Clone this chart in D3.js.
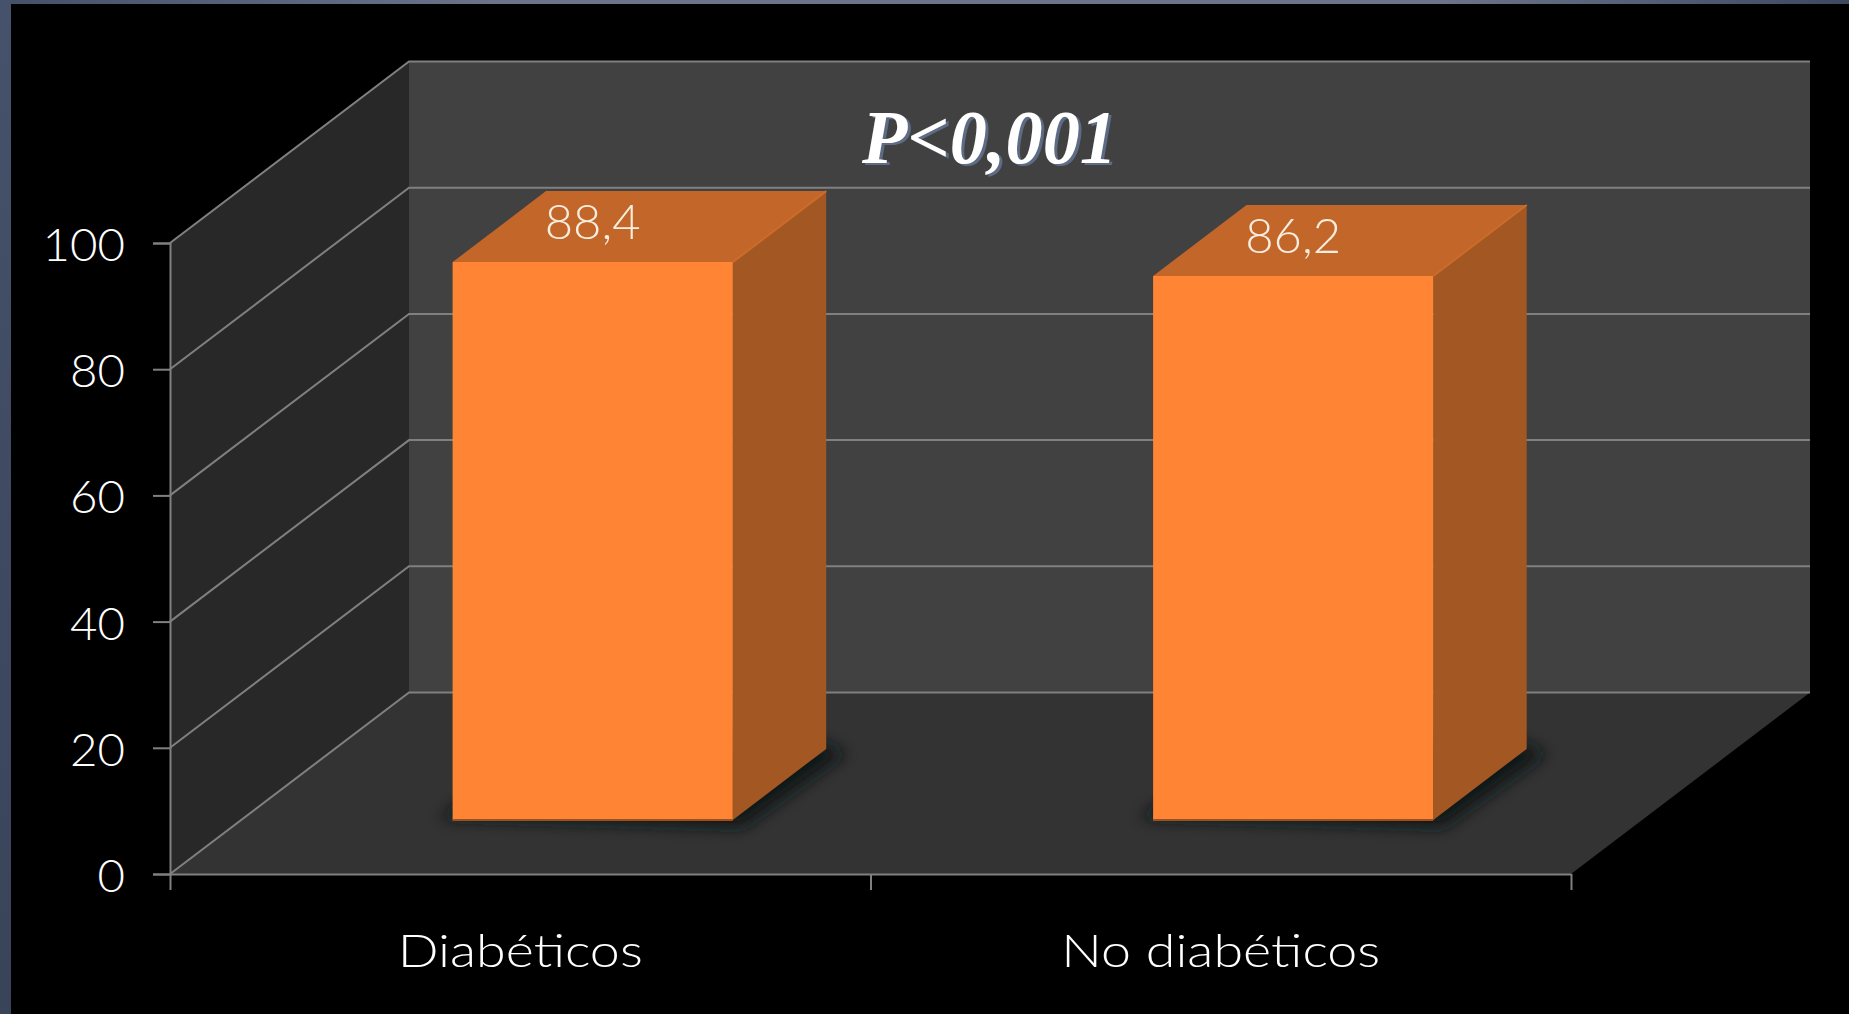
<!DOCTYPE html>
<html>
<head>
<meta charset="utf-8">
<script src="https://cdn.jsdelivr.net/npm/d3@7"></script>
<style>
  html, body { margin: 0; padding: 0; background: #000; }
  svg { display: block; }
</style>
</head>
<body>
<svg id="chart" width="1849" height="1014"></svg>
<script>
const categories = ["Diabéticos", "No diabéticos"];
const values = [88.4, 86.2];
const valueLabels = ["88,4", "86,2"];
const yTicks = [0, 20, 40, 60, 80, 100];
const annotation = "P<0,001";

const W = 1849, H = 1014;
const svg = d3.select("#chart");

// Scales for the front plane of the 3D box
const y = d3.scaleLinear().domain([0, 100]).range([874, 243]);
const x = d3.scaleBand().domain(categories).range([170, 1571]).paddingInner(0).paddingOuter(0);
const edges = d3.scaleLinear().domain([0, categories.length]).range([170, 1571]);

// Oblique projection: z runs 0 (front) to 1 (back wall)
const depthX = 239, depthY = -181.5;
const P = (px, v, z) => [px + z * depthX, y(v) + z * depthY];
const poly = pts => pts.map(p => p.map(n => n.toFixed(1)).join(",")).join(" ");

const barZ0 = 0.298, barZ1 = 0.689, barShare = 0.4, barNudge = 1.2;
const right = 1571, left = 170;

const defs = svg.append("defs");
const frameGrad = defs.append("linearGradient").attr("id", "frameGrad");
frameGrad.append("stop").attr("offset", "0").attr("stop-color", "#44506a");
frameGrad.append("stop").attr("offset", "0.27").attr("stop-color", "#6b7489");
frameGrad.append("stop").attr("offset", "0.78").attr("stop-color", "#6b7489");
frameGrad.append("stop").attr("offset", "1").attr("stop-color", "#3e4960");
const leftGrad = defs.append("linearGradient").attr("id", "leftGrad").attr("x1", 0).attr("y1", 0).attr("x2", 0).attr("y2", 1);
leftGrad.append("stop").attr("offset", "0").attr("stop-color", "#46526b");
leftGrad.append("stop").attr("offset", "1").attr("stop-color", "#39435a");
defs.append("filter").attr("id", "soft").attr("x", "-30%").attr("y", "-30%").attr("width", "160%").attr("height", "160%")
  .append("feGaussianBlur").attr("stdDeviation", 8);

// Widen a label's glyphs to reach the round proportions of the slide typeface
const stretch = (sel, factor) => sel.each(function () {
  const len = this.getComputedTextLength();
  d3.select(this).attr("textLength", len * factor).attr("lengthAdjust", "spacingAndGlyphs");
});

// Slide frame and black panel
svg.append("rect").attr("width", W).attr("height", 4).attr("fill", "url(#frameGrad)");
svg.append("rect").attr("width", 11).attr("height", H).attr("fill", "url(#leftGrad)");
svg.append("rect").attr("x", 11).attr("y", 4).attr("width", W - 11).attr("height", H - 4).attr("fill", "#000");

// Walls and floor
svg.append("polygon").attr("fill", "#282828")
  .attr("points", poly([P(left, 0, 0), P(left, 100, 0), P(left, 100, 1), P(left, 0, 1)]));
svg.append("polygon").attr("fill", "#414141")
  .attr("points", poly([P(left, 0, 1), P(left, 100, 1), P(right, 100, 1), P(right, 0, 1)]));
svg.append("polygon").attr("fill", "#333333")
  .attr("points", poly([P(left, 0, 0), P(left, 0, 1), P(right, 0, 1), P(right, 0, 0)]));

// Gridlines on the side wall and back wall
const grid = svg.append("g").attr("fill", "none").attr("stroke", "#808080").attr("stroke-width", 2);
grid.selectAll("polyline").data(yTicks).join("polyline")
  .attr("points", d => poly([P(left, d, 0), P(left, d, 1), P(right, d, 1)]));

// Axes on the front plane
const yAxis = svg.append("g").attr("transform", `translate(${left},0)`)
  .call(d3.axisLeft(y).tickValues(yTicks).tickSize(17).tickPadding(28));
yAxis.selectAll("path,line").attr("stroke", "#808080").attr("stroke-width", 2);
yAxis.selectAll("text").attr("fill", "#fff").attr("font-family", "Lato").attr("font-weight", 300)
  .attr("font-size", 46).attr("dy", "0.38em").call(stretch, 1.03);

const xAxis = svg.append("g").attr("transform", `translate(0,${y(0)})`)
  .call(d3.axisBottom(edges).tickValues(d3.range(categories.length + 1)).tickSize(16).tickSizeOuter(0).tickFormat(""));
xAxis.selectAll("path,line").attr("stroke", "#808080").attr("stroke-width", 2);

svg.append("g").selectAll("text").data(categories).join("text")
  .attr("x", d => x(d) + x.bandwidth() / 2)
  .attr("y", 967)
  .attr("text-anchor", "middle")
  .attr("fill", "#fff").attr("font-family", "Lato").attr("font-weight", 300).attr("font-size", 46)
  .text(d => d)
  .call(stretch, 1.17);

// Bars as three visible faces plus a soft contact shadow on the floor
const bars = categories.map((c, i) => {
  const cx = x(c) + x.bandwidth() / 2 + barNudge;
  const half = x.bandwidth() * barShare / 2;
  return { c, v: values[i], label: valueLabels[i], x0: cx - half, x1: cx + half };
});
const barG = svg.append("g").selectAll("g").data(bars).join("g");
barG.append("polygon").attr("fill", "#0e1316").attr("filter", "url(#soft)")
  .attr("points", d => {
    const fl = P(d.x0, 0, barZ0), fr = P(d.x1, 0, barZ0), br = P(d.x1, 0, barZ1), bl = P(d.x0, 0, barZ1);
    return poly([[fl[0] - 14, fl[1] - 2], [fr[0] + 10, fr[1] + 7], [br[0] + 20, br[1] + 4], [br[0] - 10, br[1] - 8], [bl[0], bl[1]]]);
  });
barG.append("polygon").attr("fill", "#a35723")
  .attr("points", d => poly([P(d.x1, 0, barZ0), P(d.x1, d.v, barZ0), P(d.x1, d.v, barZ1), P(d.x1, 0, barZ1)]));
barG.append("polygon").attr("fill", "#c26629")
  .attr("points", d => poly([P(d.x0, d.v, barZ0), P(d.x0, d.v, barZ1), P(d.x1, d.v, barZ1), P(d.x1, d.v, barZ0)]));
barG.append("polygon").attr("fill", "#ff8534")
  .attr("points", d => poly([P(d.x0, 0, barZ0), P(d.x0, d.v, barZ0), P(d.x1, d.v, barZ0), P(d.x1, 0, barZ0)]));

// Thin shaded edges on the boxes
barG.append("line").attr("stroke", "#cc6c2b").attr("stroke-width", 2)
  .attr("x1", d => P(d.x1, d.v, barZ0)[0]).attr("y1", d => P(d.x1, d.v, barZ0)[1])
  .attr("x2", d => P(d.x1, d.v, barZ1)[0]).attr("y2", d => P(d.x1, d.v, barZ1)[1]);
barG.append("line").attr("stroke", "#9c5020").attr("stroke-width", 2)
  .attr("x1", d => P(d.x0, 0, barZ0)[0]).attr("y1", d => P(d.x0, 0, barZ0)[1])
  .attr("x2", d => P(d.x1, 0, barZ0)[0]).attr("y2", d => P(d.x1, 0, barZ0)[1]);

// Value labels sit on the top face, centred over the front of the bar
barG.append("text")
  .attr("x", d => P((d.x0 + d.x1) / 2, d.v, barZ0)[0])
  .attr("y", d => P(d.x0, d.v, barZ0)[1] - 23)
  .attr("text-anchor", "middle")
  .attr("fill", "#f8eedf").attr("font-family", "Lato").attr("font-weight", 300).attr("font-size", 48)
  .text(d => d.label)
  .call(stretch, 1.02);

// Significance note on the back wall, with an offset slate shadow
const note = svg.append("g").attr("font-family", "Liberation Serif").attr("font-weight", "bold").attr("font-style", "italic").attr("font-size", 77);
note.append("text").attr("x", 865).attr("y", 165).attr("fill", "#5d6b85").attr("textLength", 255).attr("lengthAdjust", "spacingAndGlyphs").text(annotation);
note.append("text").attr("x", 862).attr("y", 163).attr("fill", "#fff").attr("textLength", 255).attr("lengthAdjust", "spacingAndGlyphs").text(annotation);
</script>
</body>
</html>
